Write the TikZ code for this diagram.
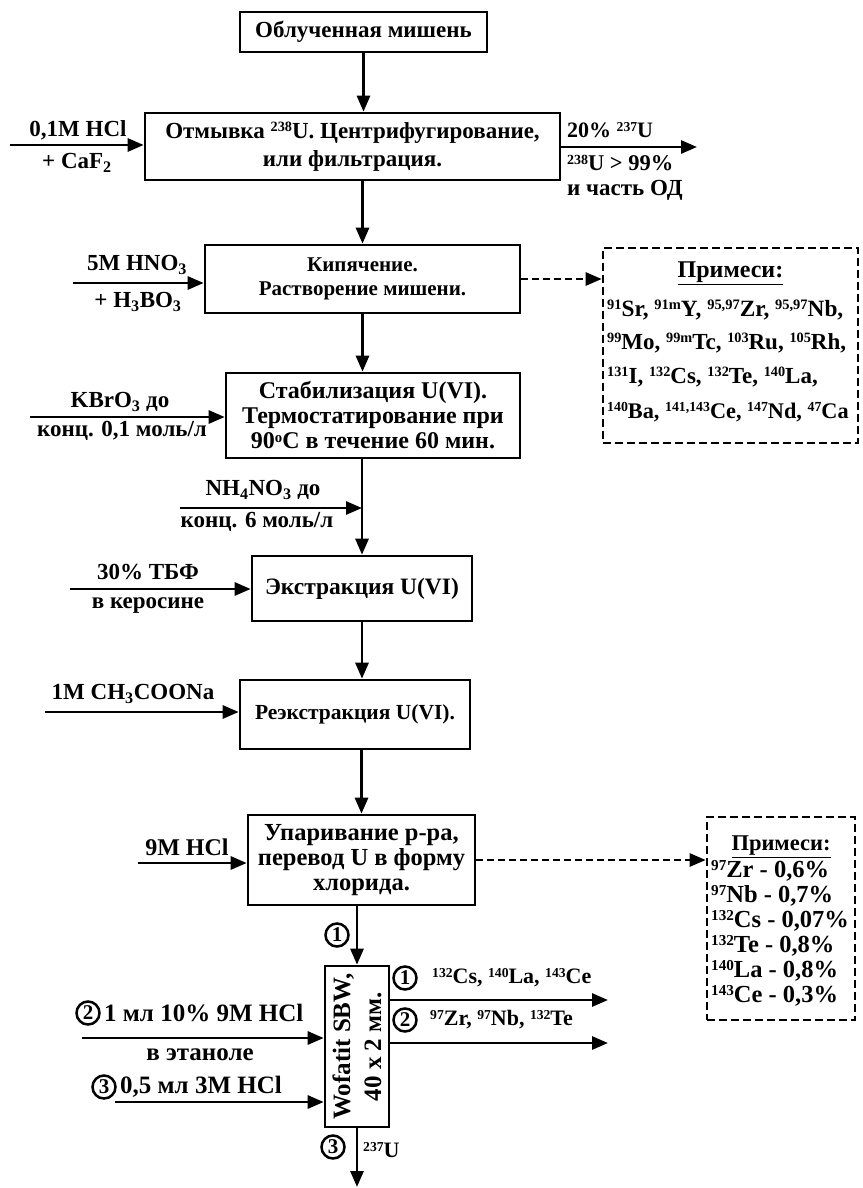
\documentclass[tikz,border=0pt]{standalone}
\usepackage{fontspec}
\usepackage{graphicx}
\setmainfont{Liberation Serif}
\usetikzlibrary{arrows.meta,calc}
\newcommand\sps[1]{\raisebox{0.6ex}{\scalebox{0.62}{#1}}}
\newcommand\sbs[1]{\textsubscript{#1}}
\newcommand\fs[2]{\fontsize{#1}{#2}\selectfont\bfseries}
\begin{document}
\begin{tikzpicture}[x=1pt,y=-1pt,
  every node/.style={font=\fs{23}{25}, inner sep=0pt},
  box/.style={draw, line width=2.6pt, align=center},
  lbl/.style={font=\fs{23}{25}},
  arr/.style={line width=2.8pt, -{Triangle[length=16pt,width=13pt]}},
  darr/.style={line width=2.6pt, dash pattern=on 7pt off 4pt, -{Triangle[length=16pt,width=13pt]}},
  dbox/.style={draw, line width=2.6pt, dash pattern=on 8pt off 4pt},
  circ/.style={draw, circle, line width=2.5pt, minimum size=23pt, font=\fs{21}{21}},
]
\useasboundingbox (0,0) rectangle (862,1188);
% main boxes
\node[box, minimum width=247, minimum height=40] (top) at (363.5,32) {Облученная мишень};
\node[box, minimum width=415, minimum height=67, font=\fs{23}{28}] (box2) at (352.5,146.5) {Отмывка \sps{238}U. Центрифугирование,\\ или фильтрация.};
\node[box, minimum width=315, minimum height=68, font=\fs{21}{24}] (box3) at (362.5,279) {Кипячение.\\ Растворение мишени.};
\node[box, minimum width=294, minimum height=85, font=\fs{24}{25}] (box4) at (373,415.5) {Стабилизация U(VI).\\ Термостатирование при\\ 90\sps{o}C в течение 60 мин.};
\node[box, minimum width=220, minimum height=65, font=\fs{23.5}{25}] (box5) at (362,588.5) {Экстракция U(VI)};
\node[box, minimum width=230, minimum height=69, font=\fs{21.5}{25}] (box6) at (355,714.5) {Реэкстракция U(VI).};
\node[box, minimum width=227, minimum height=90, font=\fs{24.5}{25}] (box7) at (361.5,860) {Упаривание р-ра,\\ перевод U в форму\\ хлорида.};
\node[box, minimum width=64, minimum height=161] (col) at (357,1046.5) {};
\node[rotate=90, align=center, font=\fs{25}{31}] (coltxt) at (col.center) {Wofatit SBW,\\ 40 x 2 мм.};
% dashed boxes
\node[dbox, minimum width=255, minimum height=195] (imp1) at (730.5,345.5) {};
\node[font=\fs{24}{25}] (imp1h) at (730.5,273) {\underline{Примеси:}};
\node[anchor=west, font=\fs{23.3}{25}] (imp1a) at (607,310) {\sps{91}Sr, \sps{91m}Y, \sps{95,97}Zr, \sps{95,97}Nb,};
\node[anchor=west] (imp1b) at (607,343) {\sps{99}Mo, \sps{99m}Tc, \sps{103}Ru, \sps{105}Rh,};
\node[anchor=west] (imp1c) at (607,377) {\sps{131}I, \sps{132}Cs, \sps{132}Te, \sps{140}La,};
\node[anchor=west, font=\fs{22.3}{25}] (imp1d) at (607,412) {\sps{140}Ba, \sps{141,143}Ce, \sps{147}Nd, \sps{47}Ca};
\node[dbox, minimum width=148, minimum height=203] (imp2) at (781,918.5) {};
\node[font=\fs{22.5}{25}] (imp2h) at (781,847) {\underline{Примеси:}};
\begin{scope}[every node/.style={font=\fs{24.5}{25}, inner sep=0pt, anchor=west}]
\node (imp2a) at (711,871) {\sps{97}Zr - 0,6\%};
\node (imp2b) at (711,896) {\sps{97}Nb - 0,7\%};
\node (imp2c) at (711,921) {\sps{132}Cs - 0,07\%};
\node (imp2d) at (711,946) {\sps{132}Te - 0,8\%};
\node (imp2e) at (711,971) {\sps{140}La - 0,8\%};
\node (imp2f) at (711,996) {\sps{143}Ce - 0,3\%};
\end{scope}
% main flow
\draw[arr] (top.south) -- (top.south |- box2.north);
\draw[arr] (box2.south -| box3.north) -- (box3.north);
\draw[arr] (box3.south) -- (box3.south |- box4.north);
\draw[arr] (box4.south -| box5.north) -- (box5.north);
\draw[arr] (box5.south) -- (box5.south |- box6.north);
\draw[arr] (box6.south -| box7.north) -- (box7.north);
\draw[arr] (box7.south -| col.north) -- (col.north);
\coordinate (cend) at (357,1187);
\draw[arr] (col.south) -- (cend);
% inputs
\coordinate (i1) at (10,145);  \draw[arr] (i1) -- (i1 -| box2.west);
\coordinate (i2) at (73,283);  \draw[arr] (i2) -- (i2 -| box3.west);
\coordinate (i3) at (30,417);  \draw[arr] (i3) -- (i3 -| box4.west);
\coordinate (i4) at (180,508); \draw[arr] (i4) -- (i4 -| box5.north);
\coordinate (i5) at (70,589);  \draw[arr] (i5) -- (i5 -| box5.west);
\coordinate (i6) at (45,712);  \draw[arr] (i6) -- (i6 -| box6.west);
\coordinate (i7) at (138,863); \draw[arr] (i7) -- (i7 -| box7.west);
\coordinate (i8) at (82,1038); \draw[arr] (i8) -- (i8 -| col.west);
\coordinate (i9) at (115,1102); \draw[arr] (i9) -- (i9 -| col.west);
% outputs
\coordinate (o1) at (697,147);  \draw[arr] (o1 -| box2.east) -- (o1);
\coordinate (o2) at (608,1000); \draw[arr] (o2 -| col.east) -- (o2);
\coordinate (o3) at (608,1043); \draw[arr] (o3 -| col.east) -- (o3);
\draw[darr] (box3.east) -- (box3.east -| imp1.west);
\draw[darr] (box7.east) -- (box7.east -| imp2.west);
% labels
\node[lbl] (l1a) at (78,130) {0,1M HCl};
\node[lbl] (l1b) at (77,163) {+ CaF\sbs{2}};
\node[lbl] (l2a) at (137,265) {5M HNO\sbs{3}};
\node[lbl] (l2b) at (138,302) {+ H\sbs{3}BO\sbs{3}};
\node[lbl] (l3a) at (120,402) {KBrO\sbs{3} до};
\node[lbl] (l3b) at (122,431) {конц. 0,1 моль/л};
\node[lbl] (l4a) at (263,490) {NH\sbs{4}NO\sbs{3} до};
\node[lbl] (l4b) at (257,522) {конц. 6 моль/л};
\node[lbl] (l5a) at (148,572) {30\% ТБФ};
\node[lbl] (l5b) at (148,606) {в керосине};
\node[lbl] (l6a) at (133,694) {1M CH\sbs{3}COONa};
\node[lbl, font=\fs{24}{25}] (l7a) at (187,847) {9M HCl};
\node[lbl, anchor=west, font=\fs{22}{25}] (o1a) at (567,130) {20\% \sps{237}U};
\node[lbl, anchor=west, font=\fs{22.5}{25}] (o1b) at (567,163) {\sps{238}U > 99\%};
\node[lbl, anchor=west] (o1c) at (567,190) {и часть ОД};
% column labels
\node[circ] (c1top) at (337,935) {1};
\node[circ] (c1r) at (405,978) {1};
\node[lbl, anchor=west, font=\fs{22}{25}] (r1) at (432,978) {\sps{132}Cs, \sps{140}La, \sps{143}Ce};
\node[circ] (c2r) at (405,1020) {2};
\node[lbl, anchor=west, font=\fs{22}{25}] (r2) at (430,1020) {\sps{97}Zr, \sps{97}Nb, \sps{132}Te};
\node[circ] (c2l) at (88,1013) {2};
\node[lbl, anchor=west, font=\fs{25}{25}] (l8a) at (104,1013) {1 мл 10\% 9M HCl};
\node[lbl, font=\fs{25}{25}] (l8b) at (200,1055) {в этаноле};
\node[circ] (c3l) at (104,1087) {3};
\node[lbl, anchor=west, font=\fs{25}{25}] (l9a) at (120,1087) {0,5 мл 3M HCl};
\node[circ] (c3b) at (333,1147) {3};
\node[lbl, anchor=west, font=\fs{22}{25}] (u237) at (363,1150) {\sps{237}U};
\end{tikzpicture}
\end{document}
